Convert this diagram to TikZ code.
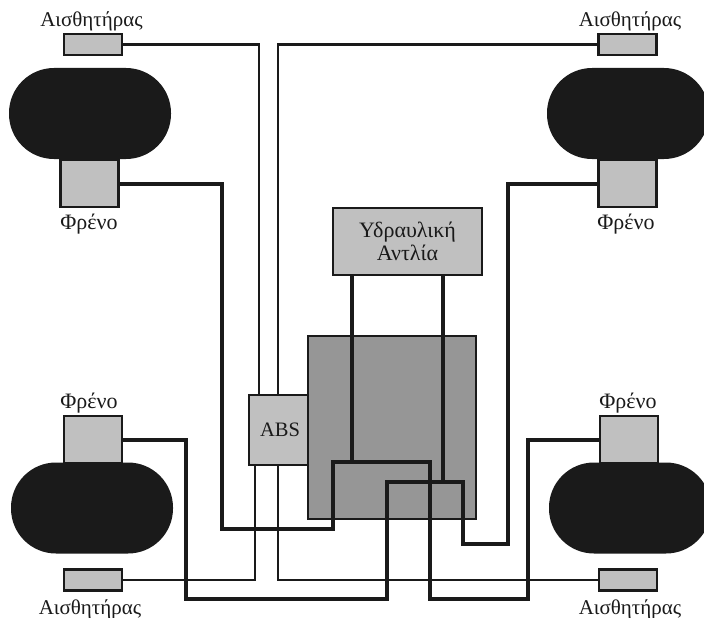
\documentclass[tikz,border=0pt]{standalone}
\usepackage{fontspec}
\setmainfont{Liberation Serif}
\definecolor{ink}{HTML}{1A1A1A}
\definecolor{lightg}{HTML}{C0C0C0}
\definecolor{midg}{HTML}{969696}
\tikzset{
  boxn/.style={draw=ink,line width=2.4pt,fill=lightg,inner sep=0pt,rectangle},
  sensorbox/.style={boxn,minimum width=58pt,minimum height=21pt},
  brakebox/.style={boxn,minimum width=58pt,minimum height=47pt},
  tyre/.style={fill=ink,draw=none,rectangle,rounded corners=45pt,minimum width=162pt,minimum height=91pt,inner sep=0pt},
  lbl/.style={font=\fontsize{21}{23}\selectfont,text=ink,inner sep=0pt},
  brk/.style={font=\fontsize{22}{24}\selectfont,text=ink,inner sep=0pt},
  thinw/.style={draw=ink,line width=2.4pt},
  thickw/.style={draw=ink,line width=4pt}
}
\begin{document}
\begin{tikzpicture}[x=1pt,y=-1pt]
\useasboundingbox (0,0) rectangle (704,618);
\clip (0,0) rectangle (704,618);
% tyres
\node[tyre] (tTL) at (90,113.5) {};
\node[tyre] (tTR) at (628,113.5) {};
\node[tyre] (tBL) at (92,508) {};
\node[tyre] (tBR) at (630,508) {};
% central boxes
\node[boxn,fill=midg,minimum width=168pt,minimum height=183pt] (pumpbase) at (392,427.5) {};
\node[boxn,minimum width=149pt,minimum height=67pt,align=center,font=\fontsize{22}{23}\selectfont,text=ink] (pump) at (407.5,241.5) {Υδραυλική\\Αντλία};
\node[boxn,minimum width=59pt,minimum height=70pt,font=\fontsize{20.5}{22}\selectfont,text=ink] (abs) at (278.5,430) {\hspace{3pt}\raisebox{-1pt}{ABS}};
% sensors
\node[sensorbox] (sTL) at (93,44.5) {};
\node[sensorbox] (sTR) at (627.5,44.5) {};
\node[sensorbox] (sBL) at (93,580) {};
\node[sensorbox] (sBR) at (628,580) {};
% brakes
\node[brakebox] (bTL) at (89.5,183.5) {};
\node[brakebox] (bTR) at (627.5,183.5) {};
\node[brakebox] (bBL) at (93,439.5) {};
\node[brakebox] (bBR) at (629,439.5) {};
% labels
\node[lbl] (lsTL) at (91.5,21) {Αισθητήρας};
\node[lbl] (lsTR) at (630,21) {Αισθητήρας};
\node[lbl] (lsBL) at (90,609) {Αισθητήρας};
\node[lbl] (lsBR) at (630,609) {Αισθητήρας};
\node[brk] (lbTL) at (89,224) {Φρένο};
\node[brk] (lbTR) at (626,224) {Φρένο};
\node[brk] (lbBL) at (89,403) {Φρένο};
\node[brk] (lbBR) at (628,403) {Φρένο};
% connector way-points
\coordinate (absT1) at (259,395);
\coordinate (absT2) at (278,395);
\coordinate (absB1) at (255,465);
\coordinate (absB2) at (278,465);
\coordinate (pumpL) at (352,275);
\coordinate (pumpR) at (443,275);
\coordinate (jA) at (333,462);
\coordinate (jB) at (387,482);
% thin sensor lines
\draw[thinw] (sTL.east) -| (absT1);
\draw[thinw] (sTR.west) -| (absT2);
\draw[thinw] (sBL.east) -| (absB1);
\draw[thinw] (sBR.west) -| (absB2);
% thick brake lines
\draw[thickw] (bTL.east) -| (222,529) -- (333,529) -- (jA) -- (430,462) -- (430,599) -- (528,599) |- (bBR.west);
\draw[thickw] (bBL.east) -| (186,599) -- (387,599) -- (jB) -- (463,482) -- (463,544) -- (508,544) |- (bTR.west);
\draw[thickw] (pumpL) -- (pumpL |- jA);
\draw[thickw] (pumpR) -- (pumpR |- jB);
\end{tikzpicture}
\end{document}
